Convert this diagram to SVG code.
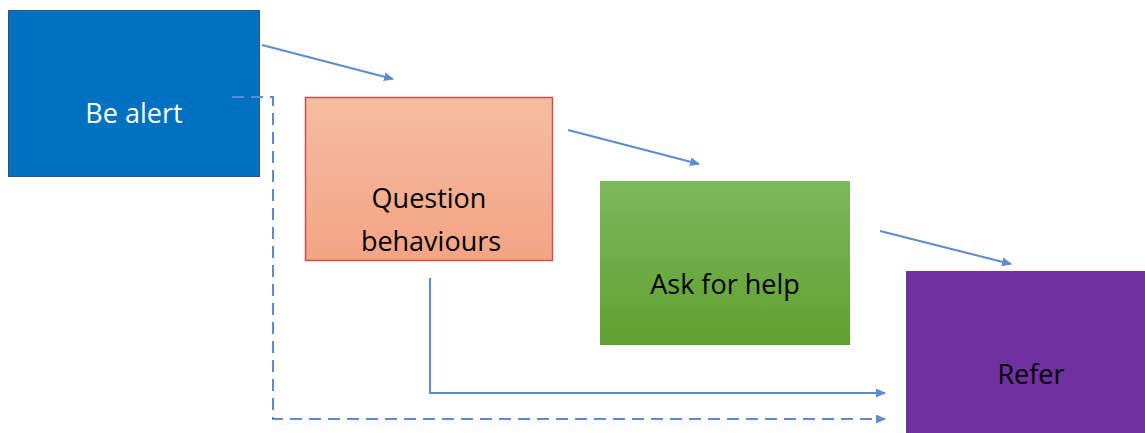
<svg xmlns="http://www.w3.org/2000/svg" width="1145" height="433" viewBox="0 0 1145 433">
<style>
.lbl{font-family:"Open Sans","Liberation Sans",sans-serif;font-size:27px;text-anchor:middle;dominant-baseline:central}
.conn{fill:none;stroke:#5B8BD0;stroke-width:2}
.dash{stroke-dasharray:12,7}
</style>
<defs>
<marker id="ah" markerWidth="10" markerHeight="9" refX="9" refY="4.5" orient="auto" markerUnits="userSpaceOnUse" viewBox="0 0 10 9">
<path d="M0,0 L10,4.5 L0,9 Z" fill="#5B8BD0"/>
</marker>
<linearGradient id="gOrange" x1="0" y1="0" x2="0" y2="1">
<stop offset="0" stop-color="#F5BDA2"/>
<stop offset="1" stop-color="#F3A483"/>
</linearGradient>
<linearGradient id="gGreen" x1="0" y1="0" x2="0" y2="1">
<stop offset="0" stop-color="#7CB95C"/>
<stop offset="1" stop-color="#5FA02F"/>
</linearGradient>
</defs>
<g id="be-alert">
<rect x="8.5" y="10.5" width="251" height="166" fill="#0070C0" stroke="#2F528F" stroke-width="1"/>
<text class="lbl" x="134" y="112" fill="#FFFFFF">Be alert</text>
</g>
<g id="question-behaviours">
<rect x="305.5" y="97.5" width="247" height="163" fill="url(#gOrange)" stroke="#C9524E" stroke-width="1.5"/>
<text class="lbl" x="429" y="197" fill="#000000">Question</text>
<text class="lbl" x="431" y="240" fill="#000000">behaviours</text>
</g>
<g id="ask-for-help">
<rect x="600" y="181" width="250" height="164" fill="url(#gGreen)"/>
<text class="lbl" x="725" y="283" fill="#000000">Ask for help</text>
</g>
<g id="refer">
<rect x="906" y="271" width="239" height="162" fill="#7030A0"/>
<text class="lbl" x="1031" y="373" fill="#000000">Refer</text>
</g>
<g id="connectors">
<path class="conn" d="M262,45 L393,79" marker-end="url(#ah)"/>
<path class="conn" d="M568,130 L699,164" marker-end="url(#ah)"/>
<path class="conn" d="M880,231 L1011,264" marker-end="url(#ah)"/>
<path class="conn" d="M430,278 L430,393 L885,393" marker-end="url(#ah)"/>
<path class="conn dash" d="M232,97 L273,97 L273,419 L885,419" marker-end="url(#ah)"/>
</g>
</svg>
